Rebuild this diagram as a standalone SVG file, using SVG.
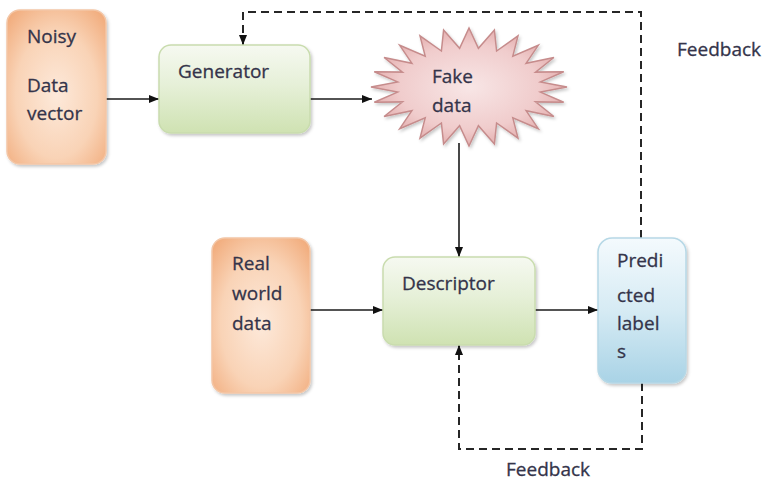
<svg xmlns="http://www.w3.org/2000/svg" width="766" height="483" viewBox="0 0 766 483">
  <defs>
    <style>
      text { font-family: "Open Sans", "Liberation Sans", sans-serif; font-size: 19px; fill: #34344a; stroke: #34344a; stroke-width: 0.3; }
      .flow { fill: none; stroke: #1a1a1a; stroke-width: 1.6; }
      .dash { fill: none; stroke: #262626; stroke-width: 2; stroke-dasharray: 8 5; }
      .orange { fill: url(#gOrange); stroke: #f3c6a6; stroke-width: 1.5; filter: url(#shadow); }
      .green { fill: url(#gGreen); stroke: #c9dcae; stroke-width: 1.5; filter: url(#shadow); }
      .blue { fill: url(#gBlue); stroke: #b6d8e6; stroke-width: 1.5; filter: url(#shadow); }
      .burst { fill: url(#gPink); stroke: #c68c8c; stroke-width: 1.5; filter: url(#shadow); }
    </style>
    <radialGradient id="gOrange" cx="0.5" cy="0.55" r="0.75">
      <stop offset="0" stop-color="#fde9da"/>
      <stop offset="0.55" stop-color="#f9d3b6"/>
      <stop offset="1" stop-color="#f0a572"/>
    </radialGradient>
    <linearGradient id="gGreen" x1="0" y1="0" x2="0" y2="1">
      <stop offset="0" stop-color="#f6f9f1"/>
      <stop offset="0.45" stop-color="#e6f0d8"/>
      <stop offset="1" stop-color="#cfe2b2"/>
    </linearGradient>
    <linearGradient id="gBlue" x1="0" y1="0" x2="0" y2="1">
      <stop offset="0" stop-color="#f4fafd"/>
      <stop offset="0.5" stop-color="#d6ebf4"/>
      <stop offset="1" stop-color="#a9d3e6"/>
    </linearGradient>
    <radialGradient id="gPink" cx="0.5" cy="0.5" r="0.6">
      <stop offset="0" stop-color="#f8e6e6"/>
      <stop offset="0.6" stop-color="#f0cccc"/>
      <stop offset="1" stop-color="#dc9c9c"/>
    </radialGradient>
    <filter id="shadow" x="-10%" y="-10%" width="125%" height="125%">
      <feDropShadow dx="1.5" dy="2" stdDeviation="1.5" flood-color="#000" flood-opacity="0.22"/>
    </filter>
    <marker id="arrow" viewBox="0 0 10 8" refX="10" refY="4" markerWidth="10" markerHeight="8" markerUnits="userSpaceOnUse" orient="auto">
      <path d="M0,0 L10,4 L0,8 z" fill="#111"/>
    </marker>
  </defs>

  <rect width="766" height="483" fill="#ffffff"/>

  <!-- connectors -->
  <g id="connectors">
    <path class="flow" d="M106,99 L159,99" marker-end="url(#arrow)"/>
    <path class="flow" d="M310,99 L372,99" marker-end="url(#arrow)"/>
    <path class="flow" d="M459,143 L459,257" marker-end="url(#arrow)"/>
    <path class="flow" d="M310,310 L383,310" marker-end="url(#arrow)"/>
    <path class="flow" d="M535,310 L598,310" marker-end="url(#arrow)"/>
    <path class="dash" d="M641,238 L641,12 L243,12 L243,45" marker-end="url(#arrow)"/>
    <path class="dash" d="M642,383 L642,449 L459,449 L459,345" marker-end="url(#arrow)"/>
  </g>

  <g id="noisy-data">
    <rect class="orange" x="7" y="10" width="99" height="154" rx="13"/>
    <text x="27" y="43">Noisy</text>
    <text x="27" y="92">Data</text>
    <text x="27" y="120">vector</text>
  </g>

  <g id="generator">
    <rect class="green" x="159" y="45" width="151" height="88" rx="12"/>
    <text x="178" y="78">Generator</text>
  </g>

  <g id="fake-data">
    <polygon class="burst" points="567,87 540.4,92.1 563.7,102.3 535.5,101.9 553.9,116.5 526.1,110.7 538.3,128.7 512.8,117.9 518,138.1 496.6,123 494.4,144 478.4,125.7 469,146 459.6,125.7 443.6,144 441.4,123 420,138.1 425.2,117.9 399.7,128.7 411.9,110.7 384.1,116.5 402.5,101.9 374.3,102.3 397.6,92.1 371,87 397.6,81.9 374.3,71.7 402.5,72.1 384.1,57.5 411.9,63.3 399.7,45.3 425.2,56.1 420,35.9 441.4,51 443.6,30 459.6,48.3 469,28 478.4,48.3 494.4,30 496.6,51 518,35.9 512.8,56.1 538.3,45.3 526.1,63.3 553.9,57.5 535.5,72.1 563.7,71.7 540.4,81.9"/>
    <text x="432" y="83">Fake</text>
    <text x="432" y="112">data</text>
  </g>

  <g id="real-data">
    <rect class="orange" x="212" y="238" width="98" height="155" rx="13"/>
    <text x="232" y="270">Real</text>
    <text x="232" y="300">world</text>
    <text x="232" y="330">data</text>
  </g>

  <g id="descriptor">
    <rect class="green" x="383" y="257" width="152" height="88" rx="12"/>
    <text x="402" y="290">Descriptor</text>
  </g>

  <g id="predicted-labels">
    <rect class="blue" x="598" y="238" width="88" height="145" rx="14"/>
    <text x="617" y="267">Predi</text>
    <text x="617" y="302">cted</text>
    <text x="617" y="330">label</text>
    <text x="617" y="358">s</text>
  </g>

  <g id="feedback-labels">
    <text x="677" y="56">Feedback</text>
    <text x="506" y="476">Feedback</text>
  </g>
</svg>
